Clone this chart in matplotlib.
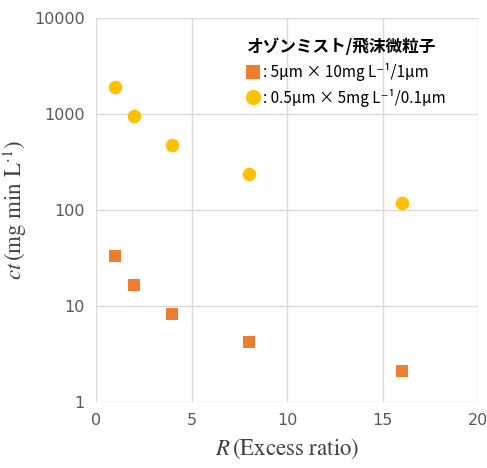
import matplotlib
matplotlib.use("Agg")
import matplotlib.pyplot as plt
from matplotlib.lines import Line2D

plt.rcParams['mathtext.fontset'] = 'stix'

# Excess ratio and ct values for the two particle conditions
ratio = [1, 2, 4, 8, 16]
ct_large = [33.3, 16.7, 8.3, 4.2, 2.1]
ct_small = [1900, 950, 475, 237, 119]

legend_title = "オゾンミスト/飛沫微粒子"
label_large = ": 5µm × 10mg L⁻¹/1µm"
label_small = ": 0.5µm × 5mg L⁻¹/0.1µm"

orange = "#ED7D31"
yellow = "#FFC000"
grid_c = "#D9D9D9"
tick_c = "#595959"

fig = plt.figure(figsize=(4.87, 4.68), dpi=100)
ax = fig.add_axes([96 / 487, 66 / 468, 382 / 487, 384 / 468])

ax.scatter(ratio, ct_large, marker="s", s=85, color=orange, zorder=3, linewidths=0)
ax.scatter(ratio, ct_small, marker="o", s=95, color=yellow, zorder=3, linewidths=0)

ax.set_yscale("log")
ax.set_xlim(0, 20)
ax.set_ylim(1, 10000)
ax.set_xticks([0, 5, 10, 15, 20])
ax.set_yticks([1, 10, 100, 1000, 10000])
ax.set_yticklabels(["1", "10", "100", "1000", "10000"])
ax.minorticks_off()
ax.grid(True, color=grid_c, linewidth=1)
ax.set_axisbelow(True)
for s in ax.spines.values():
    s.set_visible(False)
ax.tick_params(length=0, labelsize=11.5, colors=tick_c, pad=8)

ax.set_xlabel(r"$R\,$(Excess ratio)", fontsize=16.5, color="#404040", family="STIXGeneral", labelpad=6)
ax.set_ylabel(r"$ct\,$(mg min L$^{\cdot 1}$)", fontsize=16.5, color="#404040", family="STIXGeneral", labelpad=4)

handles = [
    Line2D([], [], marker="s", linestyle="", markersize=10, color=orange, markeredgewidth=0),
    Line2D([], [], marker="o", linestyle="", markersize=11, color=yellow, markeredgewidth=0),
]
fam = ["Noto Sans CJK JP", "DejaVu Sans"]
leg = ax.legend(handles, [label_large, label_small], title=legend_title,
                loc="upper left", bbox_to_anchor=(0.36, 0.985), frameon=False,
                handlelength=0.8, handletextpad=0.25, labelspacing=0.5,
                prop={"family": fam, "size": 11},
                title_fontproperties={"family": fam, "size": 12, "weight": "bold"})
leg._legend_box.align = "left"

fig.savefig("out.png", dpi=100)
